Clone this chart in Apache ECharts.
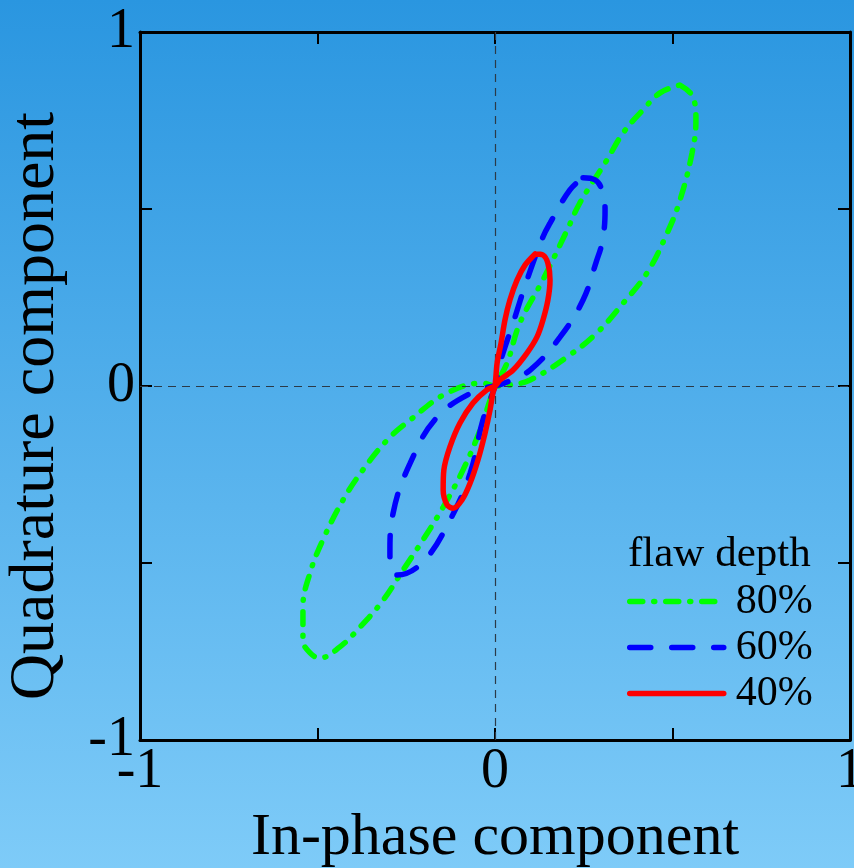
<!DOCTYPE html>
<html>
<head>
<meta charset="utf-8">
<script src="https://cdn.jsdelivr.net/npm/echarts@6/dist/echarts.min.js"></script>
<style>
  html, body { margin: 0; padding: 0; }
  #chart { width: 854px; height: 868px; }
</style>
</head>
<body>
<div id="chart"></div>
<script>
// values: [in-phase, quadrature]
const depth80 = [
  [0.521, 0.850], [0.558, 0.816], [0.566, 0.751], [0.555, 0.658], [0.521, 0.525],
  [0.485, 0.432], [0.428, 0.319], [0.361, 0.234], [0.287, 0.150], [0.203, 0.082],
  [0.099, 0.017], [0.042, 0.003], [0, 0], [-0.034, 0.008], [-0.135, -0.020],
  [-0.239, -0.096], [-0.304, -0.153], [-0.372, -0.237], [-0.428, -0.322], [-0.485, -0.435],
  [-0.521, -0.528], [-0.541, -0.624], [-0.541, -0.718], [-0.521, -0.754], [-0.493, -0.768],
  [-0.437, -0.737], [-0.380, -0.681], [-0.315, -0.605], [-0.259, -0.520], [-0.203, -0.435],
  [-0.146, -0.342], [-0.090, -0.237], [-0.042, -0.124], [-0.014, -0.040], [0, 0],
  [0.034, 0.065], [0.070, 0.178], [0.135, 0.300], [0.203, 0.440], [0.239, 0.517],
  [0.315, 0.638], [0.361, 0.715], [0.417, 0.780], [0.465, 0.828], [0.521, 0.850]
];
const depth60 = [
  [0.248, 0.588], [0.282, 0.582], [0.301, 0.554], [0.310, 0.497], [0.303, 0.412],
  [0.285, 0.350], [0.248, 0.243], [0.183, 0.138], [0.099, 0.045], [0.034, 0.011],
  [0, 0], [-0.051, -0.011], [-0.163, -0.088], [-0.239, -0.218], [-0.287, -0.359],
  [-0.296, -0.472], [-0.290, -0.520], [-0.276, -0.534], [-0.203, -0.497], [-0.127, -0.379],
  [-0.070, -0.246], [-0.034, -0.096], [0, 0], [0.014, 0.065], [0.051, 0.178],
  [0.090, 0.299], [0.135, 0.421], [0.155, 0.460], [0.211, 0.554], [0.248, 0.588]
];
const depth40 = [
  [0.113, 0.373], [0.135, 0.370], [0.149, 0.347], [0.155, 0.299], [0.149, 0.243],
  [0.135, 0.186], [0.118, 0.138], [0.090, 0.093], [0.051, 0.045], [0.014, 0.017],
  [0, 0], [-0.023, -0.011], [-0.062, -0.048], [-0.099, -0.105], [-0.127, -0.172],
  [-0.144, -0.237], [-0.146, -0.294], [-0.135, -0.336], [-0.118, -0.345], [-0.093, -0.322],
  [-0.070, -0.274], [-0.048, -0.209], [-0.028, -0.133], [-0.014, -0.068], [-0.006, -0.020],
  [0, 0], [0.006, 0.065], [0.017, 0.121], [0.028, 0.186], [0.042, 0.243],
  [0.062, 0.299], [0.085, 0.342], [0.113, 0.373]
];
const seriesNames = ['80%', '60%', '40%'];
const tickLabels = { '-1': '-1', '0': '0', '1': '1' };

const font = '"Liberation Serif", "Times New Roman", serif';
const chart = echarts.init(document.getElementById('chart'));

const fmt = (v) => tickLabels[String(v)] || '';
const frameAxis = {
  min: -1, max: 1, interval: 0.5,
  axisLine: { show: true, onZero: false, lineStyle: { color: '#000', width: 3 } },
  axisTick: { show: true, inside: true, length: 12, lineStyle: { color: '#000', width: 2 } },
  splitLine: { show: false }
};

chart.setOption({
  backgroundColor: {
    type: 'linear', x: 0, y: 0, x2: 0, y2: 1,
    colorStops: [{ offset: 0, color: '#2a96e0' }, { offset: 1, color: '#7ecbf8' }]
  },
  animation: false,
  title: {
    text: 'flaw depth', left: 628, top: 533, padding: 0,
    textStyle: { fontFamily: font, fontSize: 43, fontWeight: 'normal', color: '#000' }
  },
  legend: {
    data: seriesNames, orient: 'vertical', left: 627, top: 579, padding: 0,
    itemWidth: 94, itemHeight: 14, itemGap: 1,
    itemStyle: { opacity: 0 },
    lineStyle: { width: 5.5, cap: 'round' },
    textStyle: { fontFamily: font, fontSize: 42, color: '#000', lineHeight: 45, padding: [0, 0, 0, 7] }
  },
  grid: { left: 140, right: 4, top: 32, bottom: 128, outerBoundsMode: 'none' },
  xAxis: [
    Object.assign({}, frameAxis, {
      type: 'value', position: 'bottom',
      name: 'In-phase component', nameLocation: 'middle', nameGap: 68,
      nameTextStyle: { fontFamily: font, fontSize: 60, color: '#000' },
      axisLabel: { formatter: fmt, margin: 4, fontFamily: font, fontSize: 56, color: '#000' }
    }),
    Object.assign({}, frameAxis, { type: 'value', position: 'top', axisLabel: { show: false } })
  ],
  yAxis: [
    Object.assign({}, frameAxis, {
      type: 'value', position: 'left',
      name: 'Quadrature component', nameLocation: 'middle', nameGap: 72,
      nameTextStyle: { fontFamily: font, fontSize: 64, color: '#000', padding: [0, 40, 0, 0] },
      axisLabel: { formatter: fmt, margin: 5, fontFamily: font, fontSize: 56, color: '#000' }
    }),
    Object.assign({}, frameAxis, { type: 'value', position: 'right', axisLabel: { show: false } })
  ],
  series: [
    {
      type: 'line', data: [[0, 0]], symbol: 'none', silent: true, z: 1,
      lineStyle: { width: 0 },
      markLine: {
        silent: true, symbol: 'none', label: { show: false },
        lineStyle: { color: '#2b3a48', width: 1.2, type: [8, 6] },
        data: [{ xAxis: 0 }, { yAxis: 0 }]
      }
    },
    {
      name: '80%', type: 'line', data: depth80, symbol: 'none', smooth: 0.4, z: 3,
      lineStyle: { color: '#00ff00', width: 5.5, type: [13, 11, 1, 11], cap: 'round' },
      itemStyle: { color: '#00ff00' }
    },
    {
      name: '60%', type: 'line', data: depth60, symbol: 'none', smooth: 0.4, z: 4,
      lineStyle: { color: '#0000ff', width: 5.5, type: [21, 21], cap: 'round' },
      itemStyle: { color: '#0000ff' }
    },
    {
      name: '40%', type: 'line', data: depth40, symbol: 'none', smooth: 0.3, z: 5,
      lineStyle: { color: '#ff0000', width: 5.5, cap: 'round' },
      itemStyle: { color: '#ff0000' }
    }
  ]
});
</script>
</body>
</html>
